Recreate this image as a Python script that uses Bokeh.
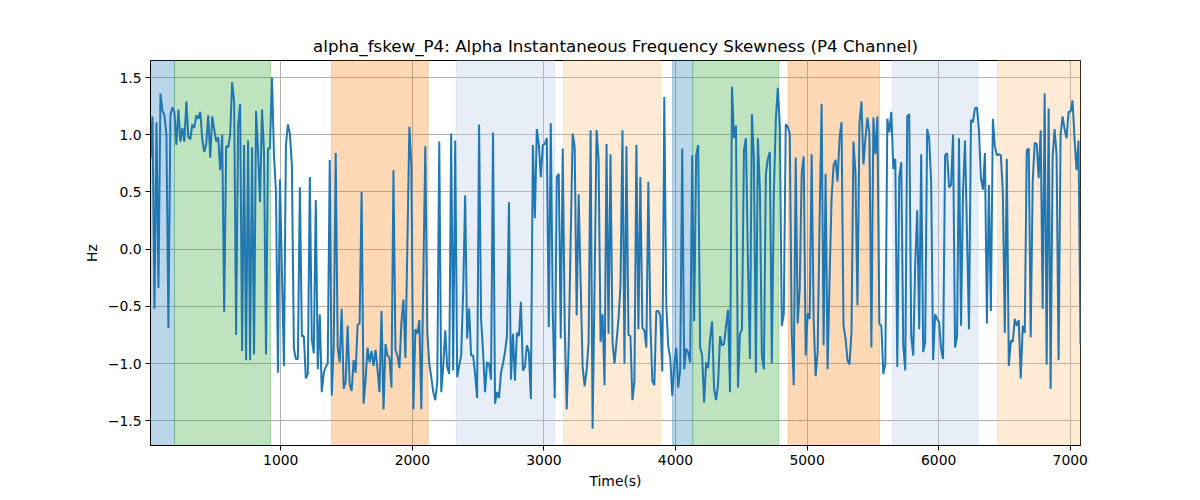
import numpy as np
from bokeh.embed import file_html
from bokeh.models import BoxAnnotation, FixedTicker, Range1d
from bokeh.plotting import figure
from bokeh.resources import INLINE

TITLE = "alpha_fskew_P4: Alpha Instantaneous Frequency Skewness (P4 Channel)"

# sampling of the skewness series (seconds)
t_start = 10
t_end = 7078

# alpha instantaneous frequency skewness, P4 channel (Hz)
skew_hz = [
    0.79, 1.16, -0.52, 1.11, -0.34, 1.36, 1.21, 1.17, 1.0, -0.69,
    1.17, 1.24, 1.2, 0.91, 1.22, 0.94, 1.06, 0.94, 1.29, 0.98,
    0.96, 1.09, 1.06, 1.17, 1.14, 1.2, 0.96, 0.85, 0.92, 1.17,
    0.8, 1.16, 1.05, 0.94, 0.98, 0.69, 1.0, -0.55, 0.9, 0.89,
    1.0, 1.46, 1.29, -0.75, 1.08, 1.27, -0.89, 0.91, -0.97, 0.95,
    -0.97, 0.89, -0.92, 1.21, 0.85, 0.41, 1.22, 0.85, -0.92, 0.88,
    0.88, 1.5, 0.82, 0.5, -1.08, 0.61, -0.2, -1.02, 0.91, 1.09,
    1.01, 0.73, -0.87, -0.96, -0.96, 0.54, -0.76, -0.76, -1.13,
    -1.09, 0.63, -0.79, -0.91, 0.43, -1.05, -0.57, -1.25, -1.08, -1.03,
    -1.0, 0.78, -1.28, -0.84, 0.84, -0.86, -0.99, -0.52, -1.22, -1.16,
    -0.67, -1.18, -1.24, -0.97, -1.08, -0.66, -0.65, 0.5, -1.35, -1.14,
    -0.86, -0.99, -0.89, -1.02, -0.88, -1.05, -1.25, -0.54, -1.4, -0.83,
    -0.93, -0.95, -1.21, 0.69, -0.88, -0.93, -1.04, -0.64, -0.44, -0.95,
    0.05, 1.07, 0.73, -1.4, -0.7, -0.74, -0.62, -1.4, -0.25, 0.9,
    -0.73, -1.0, -1.12, -1.25, -1.32, -1.16, 0.94, -1.25, -1.02, -0.71,
    -1.03, -1.09, 1.01, -1.06, 0.95,
    -1.12, -1.02, -0.93, -0.38, 0.47, -0.78, -0.52, -0.93, -0.93, -1.09,
    -1.3, 1.09, -0.61, -0.9, -1.25, -0.99, -1.0, -1.14, 1.02, -1.35,
    -1.25, -1.3, -1.08, -1.0, -0.9, -0.76, 0.41, -1.14, -0.74, -1.15,
    -0.73, -0.76, -0.46, -1.06, -1.03, -0.84, -0.9, -1.31, 0.91, 0.27,
    1.05, 0.91, 0.63, 0.91, 0.92, 0.97, -0.68, 1.1, -0.55, -1.3,
    0.63, 0.66, -0.78, 0.88, -0.67, -1.4, -0.84, 0.1, 1.01, 0.89,
    -0.58, 0.48, -0.3, -1.03, -1.2, -1.06, -0.81, 1.04, -1.57, -0.3,
    1.04, 0.79, -0.81, -0.57, -1.19, 0.92, -0.74, 0.83,
    -0.81, -1.0, -0.81, -0.61, -0.32, 1.04, -1.0, 0.9, -0.75, -0.76,
    -1.32, -1.16, 0.91, -0.7, 0.63, -0.69, -0.71, -0.86, 0.59, -0.64,
    -1.15, -1.19, -0.54, -0.54, -0.58, -1.07, 1.33, -0.49, -0.85, -0.95,
    -1.28, -1.02, -0.86, -1.21, -1.05, 0.88, -1.05, -0.87, -0.9, -0.99,
    0.82, -0.63, 0.82, 0.91, -0.86, -0.93, -1.34, -0.99, -1.04, -0.78,
    -0.63, -1.22, -1.32, -1.18, -0.76, -0.84, -0.83, -0.67, -0.53, -1.25,
    1.42, 0.97, 1.08, -1.21, -0.74, -0.7, 0.86, 0.97, -0.1, -0.96,
    1.18, 0.79, -1.08, 0.97, 0.53, -0.93, -1.05, 0.66, 0.79,
    0.85, -1.0, 0.47, 1.13, 1.41, 1.08, -0.67, -0.57, 1.09, 1.07,
    1.01, -0.73, -1.19, 0.8, -0.65, -0.35, 0.67, 0.81, -0.93, -0.56,
    -0.61, 0.83, -0.61, -1.11, -0.9, 0.27, 1.27, -0.84, 0.66, -1.05,
    -0.26, 0.44, 0.73, 0.78, 0.59, 0.97, 1.11, -0.67, -0.78, -0.97,
    -1.01, -0.73, 0.94, 0.66, -0.49, 1.1, 1.29, 0.74, 0.97, 1.15,
    1.01, -0.86, 1.15, 0.83, 1.16, -0.65, -0.67, -1.09, -1.0, 1.14,
    1.02, 1.2, 0.7, 0.79, -1.03, 0.63, 0.76, -0.84, -1.06, 1.16,
    1.18, -0.76, -0.93, -0.13, 0.34, -0.7, 0.83, -0.9,
    -0.81, 1.05, 0.97, 0.59, -0.97, -0.57, -0.61, -0.64, -0.87, -0.96,
    0.82, 0.84, 0.54, 0.56, 1.0, -0.86, -0.76, 0.97, -0.67, 0.5,
    0.95, 0.15, -0.7, 1.13, 1.11, 1.23, 1.24, 1.04, 0.62, 0.52,
    0.84, -0.65, 0.56, -0.54, 1.14, 0.9, 0.82, 0.83, 0.82, 0.5,
    -0.73, 0.79, -1.02, -0.8, -0.81, -0.61, -0.67, -0.62, -1.13, -0.67,
    -0.73, 0.86, 0.88, -0.77, 0.59, 0.93, 0.92, 0.62, 1.04, -0.52,
    1.36, -1.01, 1.23, -1.22, 0.81, 1.05, 0.82, -0.97, 1.0, 1.16,
    1.05, 0.97, 1.2, 1.2, 1.3, 0.97, 0.69, 0.95, -0.83,
]

# shaded stages (seconds)
span_starts = [10, 192, 1386, 2336, 3149, 3977, 4131, 4857, 5650, 6447]
span_ends = [192, 922, 2120, 3081, 3886, 4131, 4786, 5551, 6300, 7078]
span_colors = ["#1f77b4", "#2ca02c", "#ff7f0e", "#aec7e8", "#ffbb78",
               "#1f77b4", "#2ca02c", "#ff7f0e", "#aec7e8", "#ffbb78"]

x_ticks = [1000, 2000, 3000, 4000, 5000, 6000, 7000]
y_ticks = [-1.5, -1.0, -0.5, 0.0, 0.5, 1.0, 1.5]
y_tick_labels = ["\u22121.5", "\u22121.0", "\u22120.5", "0.0", "0.5", "1.0", "1.5"]

times = np.linspace(t_start, t_end, len(skew_hz))

p = figure(
    width=1200,
    height=500,
    output_backend="svg",
    toolbar_location=None,
    title=TITLE,
    x_axis_label="Time(s)",
    y_axis_label="Hz",
    x_range=Range1d(t_start, t_end),
    y_range=Range1d(-1.716, 1.649),
    min_border_left=150,
    min_border_right=120,
    min_border_top=60,
    min_border_bottom=55,
)

for start, end, color in zip(span_starts, span_ends, span_colors):
    p.add_layout(
        BoxAnnotation(
            left=start,
            right=end,
            fill_color=color,
            fill_alpha=0.3,
            line_color=color,
            line_alpha=0.3,
            level="underlay",
        )
    )

p.line(times, skew_hz, line_color="#1f77b4", line_width=2)

# Adjust plot settings (matplotlib look)
p.title.align = "center"
p.title.text_font = "DejaVu Sans"
p.title.text_font_size = "16.7px"
p.title.text_font_style = "normal"
p.title.text_color = "black"

p.xaxis.ticker = FixedTicker(ticks=x_ticks)
p.yaxis.ticker = FixedTicker(ticks=y_ticks)
p.yaxis.major_label_overrides = dict(zip(y_ticks, y_tick_labels))

p.axis.major_label_text_font = "DejaVu Sans"
p.axis.major_label_text_font_size = "13.9px"
p.axis.major_label_text_color = "black"
p.axis.axis_label_text_font = "DejaVu Sans"
p.axis.axis_label_text_font_size = "13.9px"
p.axis.axis_label_text_font_style = "normal"
p.axis.axis_label_text_color = "black"
p.axis.axis_line_color = "black"
p.axis.major_tick_line_color = "black"
p.axis.major_tick_out = 5
p.axis.major_tick_in = 0
p.axis.minor_tick_line_color = None
p.axis.major_label_standoff = 4

p.grid.grid_line_color = "#b0b0b0"
p.grid.grid_line_width = 1
p.outline_line_color = "black"
p.outline_line_alpha = 1
p.background_fill_color = "white"
p.border_fill_color = "white"

open("out.html", "w").write(file_html(p, INLINE))
